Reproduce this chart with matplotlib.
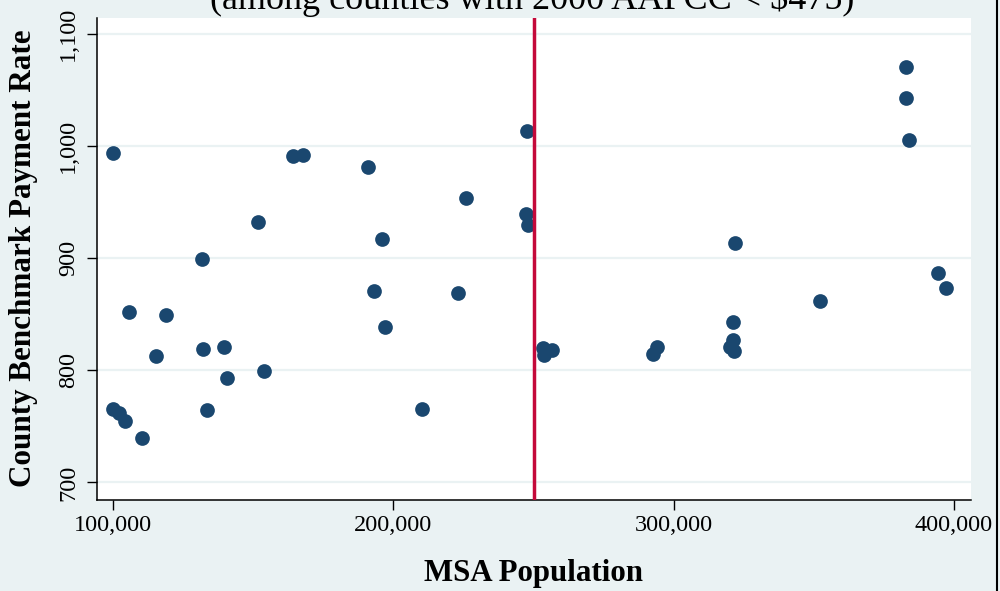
import matplotlib
matplotlib.use("Agg")
import matplotlib.pyplot as plt
from matplotlib.lines import Line2D
from matplotlib.ticker import FuncFormatter

# MSA population vs county benchmark payment rate
msa_pop = [99900, 164260, 167830, 191040, 151770, 195930, 131770, 193180,
           105480, 118700, 197000, 115140, 131900, 139630, 153800, 140700,
           99790, 102140, 104180, 133560, 110130, 210100, 247590, 225920,
           247230, 247940, 222950, 253240, 256450, 253720, 294000, 292570,
           321140, 321350, 320170, 321600, 321960, 382900, 382770, 383970,
           394320, 397180, 352410]
pay_rate = [993.5, 991.4, 992.3, 981.6, 932.3, 917.4, 899.0, 871.0,
            852.3, 849.1, 838.7, 813.1, 819.4, 821.1, 799.8, 793.2,
            765.3, 762.3, 754.9, 765.0, 739.5, 765.6, 1013.1, 953.4,
            939.1, 929.6, 868.7, 820.0, 818.1, 814.0, 821.0, 814.2,
            843.3, 827.0, 821.0, 817.5, 913.5, 1070.7, 1042.8, 1005.6,
            887.1, 873.7, 861.6]

cutoff = 250000
x_ticks = [100000, 200000, 300000, 400000]
y_ticks = [700, 800, 900, 1000, 1100]

bg = '#eaf2f3'
navy = '#1a476f'
red = '#c4093a'

plt.rcParams['font.family'] = ['Liberation Serif', 'DejaVu Serif']

fig = plt.figure(figsize=(10, 5.91), dpi=100, facecolor=bg)
ax = fig.add_axes([0.097, 0.1548, 0.874, 0.8152])
ax.set_facecolor('white')

for yt in y_ticks:
    ax.axhline(yt, color=bg, lw=1.6, zorder=1)

ax.scatter(msa_pop, pay_rate, s=112, color=navy, linewidths=0, zorder=3)
ax.axvline(cutoff, color=red, lw=2.5, zorder=4)

ax.set_xlim(94180, 406140)
ax.set_ylim(684.8, 1114.4)
ax.set_xticks(x_ticks)
ax.set_yticks(y_ticks)
fmt = FuncFormatter(lambda v, p: f"{int(v):,}")
ax.xaxis.set_major_formatter(fmt)
ax.yaxis.set_major_formatter(fmt)

for s in ['top', 'right']:
    ax.spines[s].set_visible(False)
for s in ['left', 'bottom']:
    ax.spines[s].set_linewidth(1.1)
ax.tick_params(axis='both', direction='out', length=7, width=1.0,
               labelsize=17.5, color='black')
ax.tick_params(axis='x', pad=4)
ax.tick_params(axis='y', pad=6)
for lab in ax.get_yticklabels():
    lab.set_rotation(90)
    lab.set_va('center')

fig.text(0.534, 1 - 581 / 591, "MSA Population", ha='center', va='baseline',
         fontsize=22.2, fontweight='bold')
fig.text(0.024, 1 - 258.6 / 591, "County Benchmark Payment Rate", rotation=90,
         ha='center', va='center', fontsize=22.4, fontweight='bold')
fig.text(0.532, 1 - 9 / 591, "(among counties with 2000 AAPCC < $475)",
         ha='center', va='baseline', fontsize=26)

fig.add_artist(Line2D([0.9965, 0.9965], [0, 1], transform=fig.transFigure,
                      color='black', lw=1.5))

plt.savefig("out.png", dpi=100, facecolor=bg)
